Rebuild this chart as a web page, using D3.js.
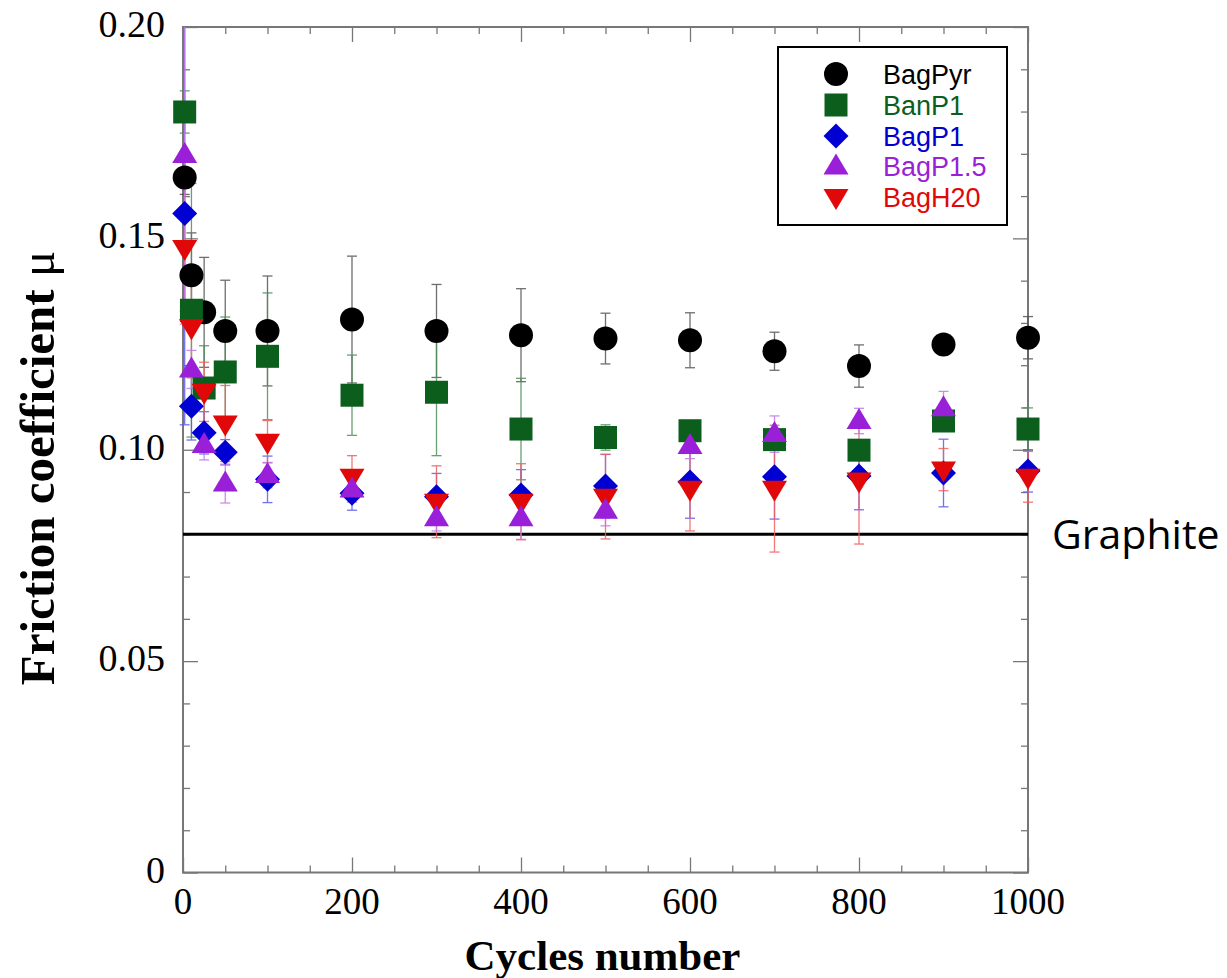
<!DOCTYPE html>
<html>
<head>
<meta charset="utf-8">
<script src="https://cdn.jsdelivr.net/npm/d3@7"></script>
<style>
  html, body { margin: 0; padding: 0; background: #fff; }
  svg { display: block; }
</style>
</head>
<body>
<svg id="chart" width="1227" height="978"></svg>
<script>
// Cycle counts at which friction was measured
const cycles = [2, 10, 25, 50, 100, 200, 300, 400, 500, 600, 700, 800, 900, 1000];

// Mean friction coefficient per sample
const bagPyr  = [0.1644, 0.1413, 0.1325, 0.1281, 0.1281, 0.1308, 0.1281, 0.1271, 0.1263, 0.1259, 0.1233, 0.1198, 0.1249, 0.1265];
const banP1   = [0.1799, 0.1330, 0.1146, 0.1184, 0.1221, 0.1129, 0.1136, 0.1049, 0.1029, 0.1045, 0.1024, 0.0999, 0.1068, 0.1049];
const bagP1   = [0.1559, 0.1103, 0.1040, 0.0994, 0.0930, 0.0897, 0.0889, 0.0893, 0.0914, 0.0924, 0.0936, 0.0938, 0.0945, 0.0950];
const bagP15  = [0.1697, 0.1190, 0.1011, 0.0920, 0.0940, 0.0906, 0.0838, 0.0838, 0.0856, 0.1009, 0.1037, 0.1068, 0.1098, null];
const bagH20  = [0.1477, 0.1290, 0.1137, 0.1062, 0.1019, 0.0936, 0.0877, 0.0877, 0.0889, 0.0908, 0.0908, 0.0927, 0.0953, 0.0936];

// Standard deviation (half-length of error bars)
const bagPyrErr = [0.004, 0.010, 0.013, 0.012, 0.013, 0.015, 0.011, 0.011, 0.006, 0.0065, 0.0045, 0.005, 0.002, 0.005];
const banP1Err  = [0.005, 0.030, 0.010, 0.013, 0.015, 0.0095, 0.015, 0.012, 0.003, 0.002, 0.002, 0.002, 0.002, 0.005];
const bagP1Err  = [0.050, 0.008, 0.005, 0.003, 0.0055, 0.004, 0.0055, 0.006, 0.0075, 0.0086, 0.010, 0.008, 0.008, 0.005];
const bagP15Err = [0.040, 0.0045, 0.0035, 0.0046, 0.003, 0.003, 0.003, 0.005, 0.0036, 0.003, 0.0043, 0.003, 0.004, null];
const bagH20Err = [0.015, 0.012, 0.007, 0.009, 0.005, 0.005, 0.0085, 0.009, 0.010, 0.010, 0.015, 0.015, 0.005, 0.006];

const seriesNames = ["BagPyr", "BanP1", "BagP1", "BagP1.5", "BagH20"];
const graphiteLevel = 0.08;

const xTicks = [0, 200, 400, 600, 800, 1000];
const yTicks = [0, 0.05, 0.10, 0.15, 0.20];
const yTickLabels = ["0", "0.05", "0.10", "0.15", "0.20"];

// ---- styling ----
const colors = { "BagPyr": "#000000", "BanP1": "#0b5e1c", "BagP1": "#0000d2", "BagP1.5": "#9a1fd8", "BagH20": "#e00808" };
const errColors = { "BagPyr": "#555555", "BanP1": "#4f8f5a", "BagP1": "#5a5af0", "BagP1.5": "#c07ae8", "BagH20": "#f06060" };
const shapes = { "BagPyr": "circle", "BanP1": "square", "BagP1": "diamond", "BagP1.5": "up", "BagH20": "down" };

function markerPath(shape) {
  const p = d3.path();
  if (shape === "circle") { p.arc(0, 0, 12, 0, 2 * Math.PI); }
  else if (shape === "square") { p.rect(-11.5, -11.5, 23, 23); }
  else if (shape === "diamond") { p.moveTo(0, -12.5); p.lineTo(12.5, 0); p.lineTo(0, 12.5); p.lineTo(-12.5, 0); p.closePath(); }
  else if (shape === "up") { p.moveTo(0, -13); p.lineTo(12.5, 8); p.lineTo(-12.5, 8); p.closePath(); }
  else if (shape === "down") { p.moveTo(0, 13); p.lineTo(12.5, -8); p.lineTo(-12.5, -8); p.closePath(); }
  return p.toString();
}

const series = [
  { name: "BagPyr",  mean: bagPyr, err: bagPyrErr },
  { name: "BanP1",   mean: banP1,  err: banP1Err },
  { name: "BagP1",   mean: bagP1,  err: bagP1Err },
  { name: "BagH20",  mean: bagH20, err: bagH20Err },
  { name: "BagP1.5", mean: bagP15, err: bagP15Err }
];

const svg = d3.select("#chart");
const margin = { left: 183, right: 1227 - 1028, top: 27, bottom: 978 - 872.5 };
const W = 1227, H = 978;

const x = d3.scaleLinear().domain([0, 1000]).range([margin.left, W - margin.right]);
const y = d3.scaleLinear().domain([0, 0.20]).range([H - margin.bottom, margin.top]);

svg.append("defs").append("clipPath").attr("id", "plotClip")
  .append("rect")
  .attr("x", x(0) - 20).attr("y", y(0.20))
  .attr("width", x(1000) - x(0) + 40).attr("height", y(0) - y(0.20));

const frameColor = "#777";

// axes with inward ticks on all four sides
function tickAxis(axisFn, scale, vals, size, transform) {
  svg.append("g").attr("transform", transform)
    .call(axisFn(scale).tickValues(vals).tickSize(size).tickFormat(""))
    .call(g => g.select(".domain").remove())
    .call(g => g.selectAll("line").attr("stroke", frameColor).attr("stroke-width", 1.3));
}
const xMinor = d3.range(0, 1001, 50).filter(v => v % 200 !== 0);
const xMajor = d3.range(0, 1001, 200);
const yMinor = d3.range(0, 21).map(i => i / 100).filter((v, i) => i % 5 !== 0);
const yMajor = [0, 0.05, 0.10, 0.15, 0.20];

tickAxis(d3.axisTop, x, xMinor, 7, `translate(0,${y(0)})`);
tickAxis(d3.axisTop, x, xMajor, 15, `translate(0,${y(0)})`);
tickAxis(d3.axisBottom, x, xMinor, 7, `translate(0,${y(0.2)})`);
tickAxis(d3.axisBottom, x, xMajor, 15, `translate(0,${y(0.2)})`);
tickAxis(d3.axisRight, y, yMinor, 7, `translate(${x(0)},0)`);
tickAxis(d3.axisRight, y, yMajor, 15, `translate(${x(0)},0)`);
tickAxis(d3.axisLeft, y, yMinor, 7, `translate(${x(1000)},0)`);
tickAxis(d3.axisLeft, y, yMajor, 15, `translate(${x(1000)},0)`);

svg.append("rect")
  .attr("x", x(0)).attr("y", y(0.2))
  .attr("width", x(1000) - x(0)).attr("height", y(0) - y(0.2))
  .attr("fill", "none").attr("stroke", frameColor).attr("stroke-width", 2);

// tick labels
const tickFont = "'Liberation Serif', 'Times New Roman', serif";
svg.append("g").selectAll("text").data(xTicks).join("text")
  .attr("x", d => x(d)).attr("y", y(0) + 41)
  .attr("text-anchor", "middle")
  .attr("font-family", tickFont).attr("font-size", 37)
  .text(d => d);
svg.append("g").selectAll("text").data(yTicks).join("text")
  .attr("x", x(0) - 18).attr("y", d => y(d) + 10)
  .attr("text-anchor", "end")
  .attr("font-family", tickFont).attr("font-size", 38)
  .text((d, i) => yTickLabels[i]);

// axis titles
svg.append("text")
  .attr("x", (x(0) + x(1000)) / 2 - 3).attr("y", 970)
  .attr("text-anchor", "middle")
  .attr("font-family", tickFont).attr("font-weight", "bold").attr("font-size", 43)
  .text("Cycles number");

const yTitle = svg.append("text")
  .attr("transform", "translate(54,468) rotate(-90)")
  .attr("text-anchor", "middle")
  .attr("font-family", tickFont).attr("font-size", 49);
yTitle.append("tspan").attr("font-weight", "bold").text("Friction coefficient ");
yTitle.append("tspan").attr("font-weight", "normal").text("\u03bc");

// graphite reference line
svg.append("line")
  .attr("x1", x(0)).attr("x2", x(1000))
  .attr("y1", y(graphiteLevel)).attr("y2", y(graphiteLevel))
  .attr("stroke", "#000").attr("stroke-width", 3);
svg.append("text")
  .attr("x", 1052).attr("y", y(graphiteLevel) + 15)
  .attr("font-family", "'Open Sans', 'Noto Sans', sans-serif").attr("font-size", 41)
  .text("Graphite");

// error bars
const plot = svg.append("g").attr("clip-path", "url(#plotClip)");
const capHalf = 5;
series.forEach(s => {
  const pts = cycles.map((c, i) => ({ c, m: s.mean[i], e: s.err[i] })).filter(d => d.m != null);
  const g = plot.append("g").attr("stroke", errColors[s.name]).attr("stroke-width", 1.3).attr("opacity", 0.85);
  pts.forEach(d => {
    const cx = x(d.c), y1 = y(d.m + d.e), y2 = y(d.m - d.e);
    g.append("line").attr("x1", cx).attr("x2", cx).attr("y1", y1).attr("y2", y2);
    g.append("line").attr("x1", cx - capHalf).attr("x2", cx + capHalf).attr("y1", y1).attr("y2", y1);
    g.append("line").attr("x1", cx - capHalf).attr("x2", cx + capHalf).attr("y1", y2).attr("y2", y2);
  });
});

// markers
series.forEach(s => {
  const pts = cycles.map((c, i) => ({ c, m: s.mean[i] })).filter(d => d.m != null);
  svg.append("g").selectAll("path").data(pts).join("path")
    .attr("d", markerPath(shapes[s.name]))
    .attr("transform", d => `translate(${x(d.c)},${y(d.m)})`)
    .attr("fill", colors[s.name]);
});

// legend
const lg = svg.append("g");
lg.append("rect").attr("x", 778).attr("y", 47).attr("width", 229).attr("height", 178)
  .attr("fill", "#fff").attr("stroke", "#000").attr("stroke-width", 2);
const legendRowY = [74, 105, 136, 166.5, 197];
seriesNames.forEach((n, i) => {
  lg.append("path").attr("d", markerPath(shapes[n]))
    .attr("transform", `translate(836,${legendRowY[i]})`)
    .attr("fill", colors[n]);
  lg.append("text").attr("x", 883).attr("y", legendRowY[i] + 9.5)
    .attr("font-family", "'Liberation Sans', Arial, sans-serif").attr("font-size", 27)
    .attr("fill", colors[n]).text(n);
});
</script>
</body>
</html>
